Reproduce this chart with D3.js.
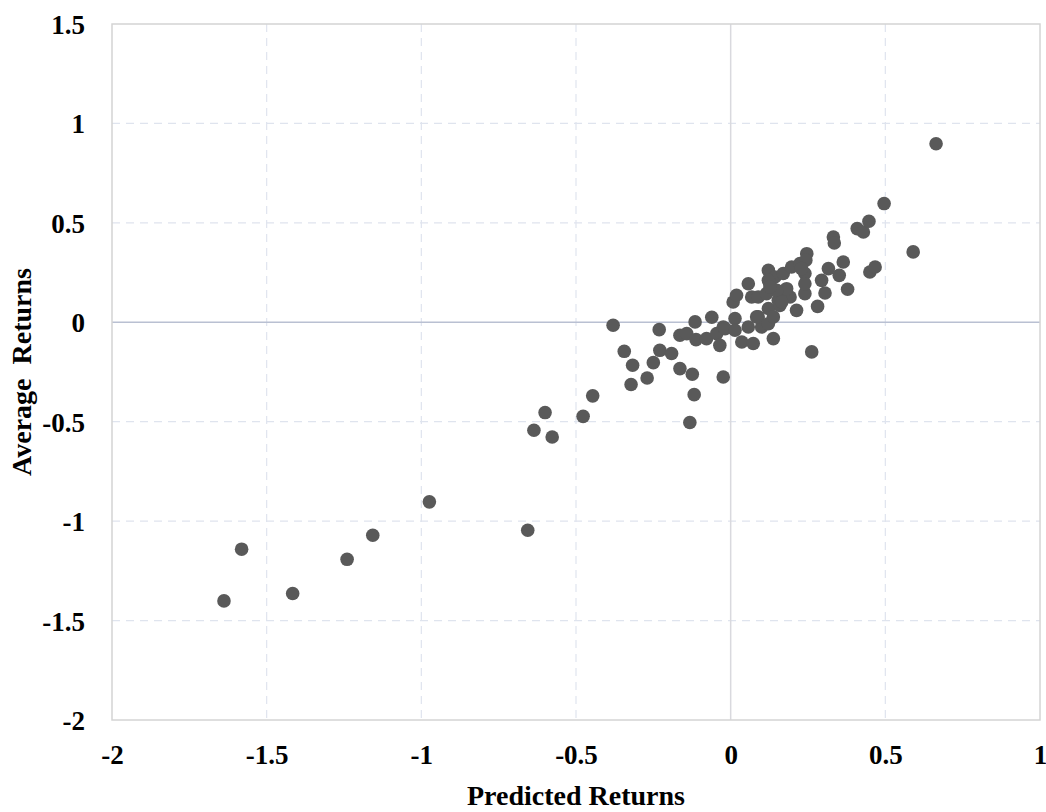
<!DOCTYPE html>
<html>
<head>
<meta charset="utf-8">
<script src="https://cdn.jsdelivr.net/npm/d3@7"></script>
<style>
  body { margin: 0; background: #fff; }
  svg text { font-family: "Liberation Serif", "Times New Roman", serif; font-weight: bold; fill: #000; }
</style>
</head>
<body>
<svg id="chart" width="1046" height="812"></svg>
<script>
// Predicted vs average returns
const predicted = [
  -1.638, -1.581, -1.416, -1.240, -1.157, -0.974, -0.656,
  -0.636, -0.600, -0.577, -0.477, -0.446,
  -0.380, -0.344, -0.317, -0.322, -0.270, -0.250, -0.231, -0.229, -0.191, -0.164, -0.164, -0.142,
  -0.124, -0.118, -0.132, -0.112, -0.115, -0.078, -0.061, -0.045, -0.035, -0.024, -0.024, -0.018,
  0.008, 0.019, 0.014, 0.014, 0.036, 0.073, 0.057, 0.089, 0.100, 0.122, 0.138, 0.122,
  0.057, 0.068, 0.089, 0.122, 0.127, 0.116, 0.143, 0.154, 0.176, 0.192, 0.170, 0.197,
  0.224, 0.240, 0.246, 0.243, 0.240, 0.240, 0.213, 0.138, 0.159, 0.181, 0.149, 0.229,
  0.262, 0.122, 0.127, 0.165, 0.084,
  0.281, 0.294, 0.305, 0.316, 0.351, 0.364, 0.378, 0.332, 0.335, 0.409, 0.429, 0.447,
  0.450, 0.467, 0.496, 0.590, 0.664
];
const average = [
  -1.401, -1.141, -1.364, -1.192, -1.071, -0.903, -1.046,
  -0.543, -0.454, -0.577, -0.473, -0.370,
  -0.015, -0.146, -0.216, -0.313, -0.280, -0.203, -0.037, -0.141, -0.157, -0.233, -0.065, -0.057,
  -0.261, -0.364, -0.504, -0.087, 0.002, -0.082, 0.025, -0.057, -0.116, -0.024, -0.275, -0.032,
  0.102, 0.136, 0.019, -0.040, -0.099, -0.107, -0.024, 0.027, -0.024, -0.007, -0.082, 0.069,
  0.194, 0.127, 0.127, 0.261, 0.194, 0.144, 0.228, 0.111, 0.161, 0.127, 0.245, 0.278,
  0.295, 0.245, 0.345, 0.312, 0.144, 0.194, 0.060, 0.027, 0.085, 0.169, 0.161, 0.270,
  -0.149, 0.211, 0.178, 0.102, 0.027,
  0.080, 0.211, 0.147, 0.270, 0.236, 0.303, 0.166, 0.429, 0.399, 0.471, 0.454, 0.508,
  0.253, 0.278, 0.597, 0.354, 0.898
];
const xTicks = [-2, -1.5, -1, -0.5, 0, 0.5, 1];
const yTicks = [-2, -1.5, -1, -0.5, 0, 0.5, 1, 1.5];

const svg = d3.select("#chart");
const plotLeft = 112, plotRight = 1040, plotTop = 24, plotBottom = 720;

const x = d3.scaleLinear().domain([-2, 1]).range([plotLeft, plotRight]);
const y = d3.scaleLinear().domain([-2, 1.5]).range([plotBottom, plotTop]);

// dashed grid
svg.append("g").selectAll("line")
  .data(xTicks.filter(d => d !== 0 && d !== -2 && d !== 1))
  .enter().append("line")
  .attr("x1", d => x(d)).attr("x2", d => x(d))
  .attr("y1", plotTop).attr("y2", plotBottom)
  .attr("stroke", "#dfe4ee").attr("stroke-width", 1.2).attr("stroke-dasharray", "8,6");
svg.append("g").selectAll("line")
  .data(yTicks.filter(d => d !== 0 && d !== -2 && d !== 1.5))
  .enter().append("line")
  .attr("x1", plotLeft).attr("x2", plotRight)
  .attr("y1", d => y(d)).attr("y2", d => y(d))
  .attr("stroke", "#dfe4ee").attr("stroke-width", 1.2).attr("stroke-dasharray", "8,6");

// zero lines
svg.append("line")
  .attr("x1", x(0)).attr("x2", x(0)).attr("y1", plotTop).attr("y2", plotBottom)
  .attr("stroke", "#d9d9de").attr("stroke-width", 1.5);
svg.append("line")
  .attr("x1", plotLeft).attr("x2", plotRight).attr("y1", y(0)).attr("y2", y(0))
  .attr("stroke", "#b9c0d2").attr("stroke-width", 1.5);

// plot border
svg.append("rect")
  .attr("x", plotLeft).attr("y", plotTop)
  .attr("width", plotRight - plotLeft).attr("height", plotBottom - plotTop)
  .attr("fill", "none").attr("stroke", "#d4d4d4").attr("stroke-width", 1.5);

// points
svg.append("g").selectAll("circle")
  .data(predicted.map((p, i) => [p, average[i]]))
  .enter().append("circle")
  .attr("cx", d => x(d[0]))
  .attr("cy", d => y(d[1]))
  .attr("r", 6.8)
  .attr("fill", "#595959");

// axes (labels only), plain hyphen for negatives
const fmt = d => String(d);
const xAxis = svg.append("g")
  .attr("transform", `translate(0,${plotBottom + 22})`)
  .call(d3.axisBottom(x).tickValues(xTicks).tickSize(0).tickFormat(fmt));
const yAxis = svg.append("g")
  .attr("transform", `translate(${plotLeft - 24},0)`)
  .call(d3.axisLeft(y).tickValues(yTicks).tickSize(0).tickFormat(fmt));
[xAxis, yAxis].forEach(a => {
  a.select(".domain").remove();
  a.selectAll("text").style("font-size", "27px").style("font-family", "'Liberation Serif', serif").style("font-weight", "bold");
});
yAxis.selectAll("text").attr("dy", "0.35em");

// axis titles
svg.append("text")
  .attr("x", (plotLeft + plotRight) / 2).attr("y", 805)
  .attr("text-anchor", "middle")
  .style("font-size", "28px")
  .text("Predicted Returns");
svg.append("text")
  .attr("transform", `translate(31,${(plotTop + plotBottom) / 2}) rotate(-90)`)
  .attr("text-anchor", "middle")
  .style("font-size", "28px")
  .style("white-space", "pre")
  .text("Average  Returns");
</script>
</body>
</html>
